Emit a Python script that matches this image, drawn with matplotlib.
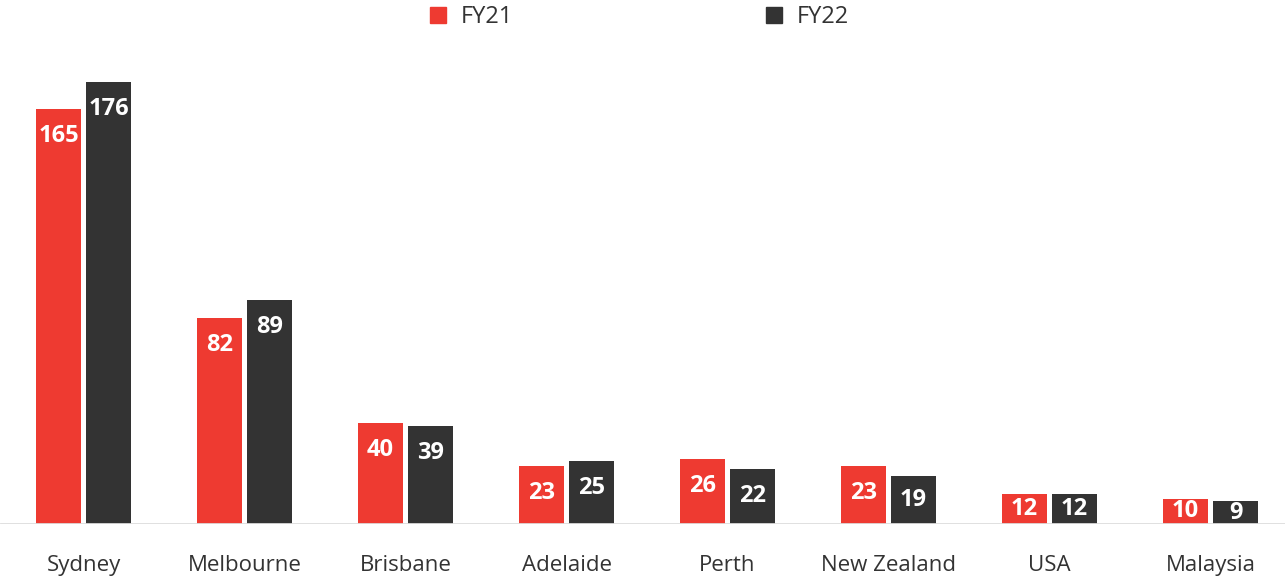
import numpy as np
import matplotlib.pyplot as plt
from matplotlib.patches import Patch

cities = ['Sydney', 'Melbourne', 'Brisbane', 'Adelaide', 'Perth', 'New Zealand', 'USA', 'Malaysia']
fy21 = [165, 82, 40, 23, 26, 23, 12, 10]
fy22 = [176, 89, 39, 25, 22, 19, 12, 9]

red = '#EE3A31'
dark = '#333333'

plt.rcParams['font.family'] = ['Open Sans', 'DejaVu Sans']

fig = plt.figure(figsize=(12.85, 5.76), dpi=100)
ax = fig.add_axes([0, 52 / 576, 1, 524 / 576])

x = np.arange(len(cities))
w = 45 / 161
off = 25 / 161
b1 = ax.bar(x - off, fy21, w, color=red)
b2 = ax.bar(x + off, fy22, w, color=dark)

for bars, vals in [(b1, fy21), (b2, fy22)]:
    for b, v in zip(bars, vals):
        y = max(v - 10.7, v / 2)
        ax.text(b.get_x() + b.get_width() / 2, y, str(v), ha='center', va='center',
                color='white', fontsize=17, fontweight='bold')

ax.set_xlim(-83.5 / 161, (1285 - 83.5) / 161)
ax.set_ylim(0, 524 / 2.513)
ax.axhline(0, color='#dddddd', lw=2, xmin=0.001)

for s in ax.spines.values():
    s.set_visible(False)
ax.set_yticks([])
ax.set_xticks(x)
ax.set_xticklabels(cities, fontsize=16, color='#333333')
ax.tick_params(axis='x', length=0, pad=22)

handles = [Patch(color=red, label='FY21'), Patch(color=dark, label='FY22')]
fig.legend(handles=handles, loc='upper center', bbox_to_anchor=(0.4975, 1.028), ncol=2,
           frameon=False, fontsize=17, handlelength=0.68, handleheight=0.68,
           handletextpad=0.64, columnspacing=10.7, labelcolor='#333333')

fig.savefig('out.png', dpi=100)
